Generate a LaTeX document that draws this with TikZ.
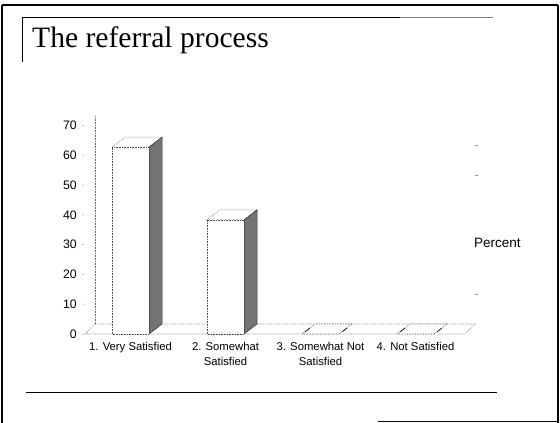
\documentclass[tikz,border=0pt]{standalone}
\usepackage{fontspec}
\setmainfont{Liberation Serif}
\newfontfamily\arialf{Liberation Sans}
\begin{document}
\begin{tikzpicture}[x=1pt,y=-1pt,
  frameline/.style={line width=1.4pt,black},
  dotline/.style={densely dotted,line width=0.6pt,black!60},
  catlabel/.style={font=\arialf\fontsize{11.3}{15}\selectfont,align=center,inner sep=0pt},
  ylabel/.style={font=\arialf\fontsize{12.3}{13}\selectfont,anchor=east,inner sep=0pt},
  barfront/.style={fill=white,draw=black!70,densely dotted,line width=0.6pt},
  barside/.style={fill=black!55,draw=black!80,line width=0.5pt},
  bartop/.style={fill=white,draw=black!70,densely dotted,line width=0.6pt}]
\useasboundingbox (0,0) rectangle (560,423);
\fill[white] (0,0) rectangle (560,423);
% outer frame
\draw[frameline] (2,5) -- (558,5);
\draw[frameline] (2,5) -- (2,423);
\draw[frameline] (558,5) -- (558,423);
\draw[frameline] (378,421.5) -- (558,421.5);
% title frame
\draw[line width=1pt] (22,17) -- (400,17);
\draw[line width=1pt,black!50] (400,17) -- (493,17);
\draw[line width=1pt] (22,17) -- (22,62);
\node[anchor=base west,inner sep=0pt,font=\fontsize{29.6}{32}\selectfont] (title) at (32,47) {The referral process};
% bottom separator
\draw[line width=1pt] (26,392) -- (497,392);
% axis wall and floor
\coordinate (wallB) at (95,324);
\coordinate (wallT) at (95,116);
\draw[dotline] (wallB) -- (wallT);
\draw[dotline] (85,334) -- (wallB) -- (475,324) -- (465,334) -- cycle;
% y labels and ticks
\foreach \v in {0,10,...,70}{
  \pgfmathsetmacro{\yy}{334-2.98*\v}
  \node[ylabel] (y\v) at (77,\yy) {\v};
  \fill[black!70] (83,\yy) circle (0.5);
  \fill[black!50] (95,\yy-10) circle (0.5);
}
\foreach \v in {10,50,60}{
  \pgfmathsetmacro{\yy}{334-2.98*\v-10}
  \draw[black!40,line width=0.4pt] (475,\yy) -- (478,\yy);
}
% bars: front left x, value
\foreach \bx/\val in {112/62.7,207/38.3,302/0,397/0}{
  \pgfmathsetmacro{\ty}{334-2.98*\val}
  \pgfmathsetmacro{\rx}{\bx+37}
  \draw[bartop] (\bx,\ty) -- (\bx+13,\ty-10) -- (\rx+13,\ty-10) -- (\rx,\ty) -- cycle;
  \ifdim\val pt>0pt
    \draw[barside] (\rx,\ty) -- (\rx+13,\ty-10) -- (\rx+13,324) -- (\rx,334) -- cycle;
    \draw[barfront] (\bx,334) rectangle (\rx,\ty);
  \else
    \draw[black,line width=0.6pt] (\bx+3,332) -- (\bx+8,328);
    \draw[black,line width=0.6pt] (\rx+3,332) -- (\rx+8,328);
  \fi
}
% category labels
\node[catlabel,anchor=north] (c1) at (130.5,342) {1. Very Satisfied};
\node[catlabel,anchor=north] (c2) at (225.5,342) {2. Somewhat\\Satisfied};
\node[catlabel,anchor=north] (c3) at (320.5,342) {3. Somewhat Not\\Satisfied};
\node[catlabel,anchor=north] (c4) at (415.5,342) {4. Not Satisfied};
% legend
\node[anchor=west,inner sep=0pt,font=\arialf\fontsize{13.5}{15}\selectfont] (legend) at (474,243) {Percent};
\end{tikzpicture}
\end{document}
